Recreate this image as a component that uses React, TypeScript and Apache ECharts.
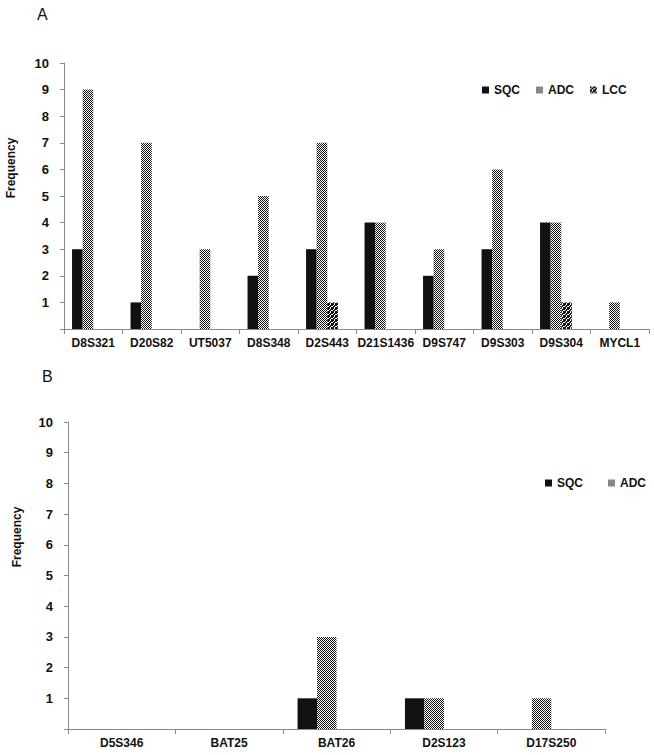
import React, { useEffect, useRef } from "react";
import * as echarts from "echarts";

const topCategories = ["D8S321", "D20S82", "UT5037", "D8S348", "D2S443", "D21S1436", "D9S747", "D9S303", "D9S304", "MYCL1"];
const topSQC = [3, 1, 0, 2, 3, 4, 2, 3, 4, 0];
const topADC = [9, 7, 3, 5, 7, 4, 3, 6, 4, 1];
const topLCC = [0, 0, 0, 0, 1, 0, 0, 0, 1, 0];

const bottomCategories = ["D5S346", "BAT25", "BAT26", "D2S123", "D17S250"];
const bottomSQC = [0, 0, 1, 1, 0];
const bottomADC = [0, 0, 3, 1, 1];

const yTicks = [0, 1, 2, 3, 4, 5, 6, 7, 8, 9, 10];

const FONT = "'Liberation Sans', Arial, sans-serif";

function makePattern(rows: string[]) {
  const w = rows[0].length;
  const h = rows.length;
  const c = document.createElement("canvas");
  c.width = w;
  c.height = h;
  const ctx = c.getContext("2d")!;
  ctx.fillStyle = "#ffffff";
  ctx.fillRect(0, 0, w, h);
  ctx.fillStyle = "#111111";
  rows.forEach((r, y) => {
    for (let x = 0; x < w; x++) if (r[x] === "X") ctx.fillRect(x, y, 1, 1);
  });
  return { image: c.toDataURL(), repeat: "repeat", imageWidth: w, imageHeight: h };
}

export default function App() {
  const ref = useRef<HTMLDivElement>(null);
  useEffect(() => {
    document.body.style.margin = "0";
    const chart = echarts.init(ref.current!, null, { renderer: "svg" });
    const adcPat = makePattern(["X.", ".X"]);
    const lccPat = makePattern(["XX.X", "X.XX", ".XX.", "XX.X"]);
    const axisColor = "#8a8a8a";
    const labelStyle = { fontSize: 12, fontWeight: "bold", color: "#111", fontFamily: FONT };

    const yAxisBase = (gridIndex: number) => ({
      type: "value",
      gridIndex,
      min: 0,
      max: 10,
      interval: 1,
      axisLine: { show: true, lineStyle: { color: axisColor, width: 1 } },
      axisTick: { show: true, length: 4, lineStyle: { color: axisColor } },
      splitLine: { show: false },
      axisLabel: {
        ...labelStyle,
        fontSize: 13,
        margin: 15,
        formatter: (v: number) => (v === 0 ? "" : String(yTicks[v] ?? v)),
      },
    });
    const xAxisBase = (gridIndex: number, data: string[]) => ({
      type: "category",
      gridIndex,
      data,
      axisLine: { show: true, lineStyle: { color: axisColor, width: 1 } },
      axisTick: { show: true, length: 5, alignWithLabel: false, lineStyle: { color: axisColor } },
      axisLabel: { ...labelStyle, interval: 0, margin: 8 },
    });
    const bar = (name: string, data: (number | null)[], xi: number, color: any) => ({
      type: "bar",
      name,
      data,
      xAxisIndex: xi,
      yAxisIndex: xi,
      barGap: "0%",
      barCategoryGap: "27.5%",
      itemStyle: { color },
      silent: true,
    });
    const legendBase = {
      icon: "rect",
      itemWidth: 7,
      itemHeight: 7,
      padding: 0,
      textStyle: { fontSize: 12, fontWeight: "bold", color: "#111", fontFamily: FONT },
      selectedMode: false,
    };

    chart.setOption({
      animation: false,
      backgroundColor: "#ffffff",
      grid: [
        { left: 64, right: 5, top: 63, height: 266 },
        { left: 68, right: 49, top: 422, height: 307 },
      ],
      xAxis: [xAxisBase(0, topCategories), xAxisBase(1, bottomCategories)],
      yAxis: [yAxisBase(0), yAxisBase(1)],
      legend: [
        { ...legendBase, data: ["SQC", "ADC", "LCC"], left: 482, top: 84, itemGap: 16 },
        { ...legendBase, data: ["SQC", "ADC"], left: 545, top: 477, itemGap: 25 },
      ],
      series: [
        bar("SQC", topSQC, 0, "#111111"),
        bar("ADC", topADC, 0, adcPat),
        bar("LCC", topLCC, 0, lccPat),
        bar("pad", topSQC.map(() => null), 0, "transparent"),
        bar("SQC", bottomSQC, 1, "#111111"),
        bar("ADC", bottomADC, 1, adcPat),
        bar("pad", bottomSQC.map(() => null), 1, "transparent"),
        bar("pad2", bottomSQC.map(() => null), 1, "transparent"),
      ],
      graphic: [
        { type: "text", left: 37, top: 6, style: { text: "A", fontSize: 16, fontFamily: FONT, fill: "#111" } },
        { type: "text", left: 42, top: 368, style: { text: "B", fontSize: 16, fontFamily: FONT, fill: "#111" } },
        {
          type: "text",
          x: 11,
          y: 168,
          rotation: Math.PI / 2,
          style: { text: "Frequency", fontSize: 12, fontWeight: "bold", fontFamily: FONT, fill: "#111", align: "center", verticalAlign: "middle" },
        },
        {
          type: "text",
          x: 17,
          y: 537,
          rotation: Math.PI / 2,
          style: { text: "Frequency", fontSize: 12, fontWeight: "bold", fontFamily: FONT, fill: "#111", align: "center", verticalAlign: "middle" },
        },
      ],
    });
    return () => chart.dispose();
  }, []);
  return <div ref={ref} style={{ width: 654, height: 755 }} />;
}
